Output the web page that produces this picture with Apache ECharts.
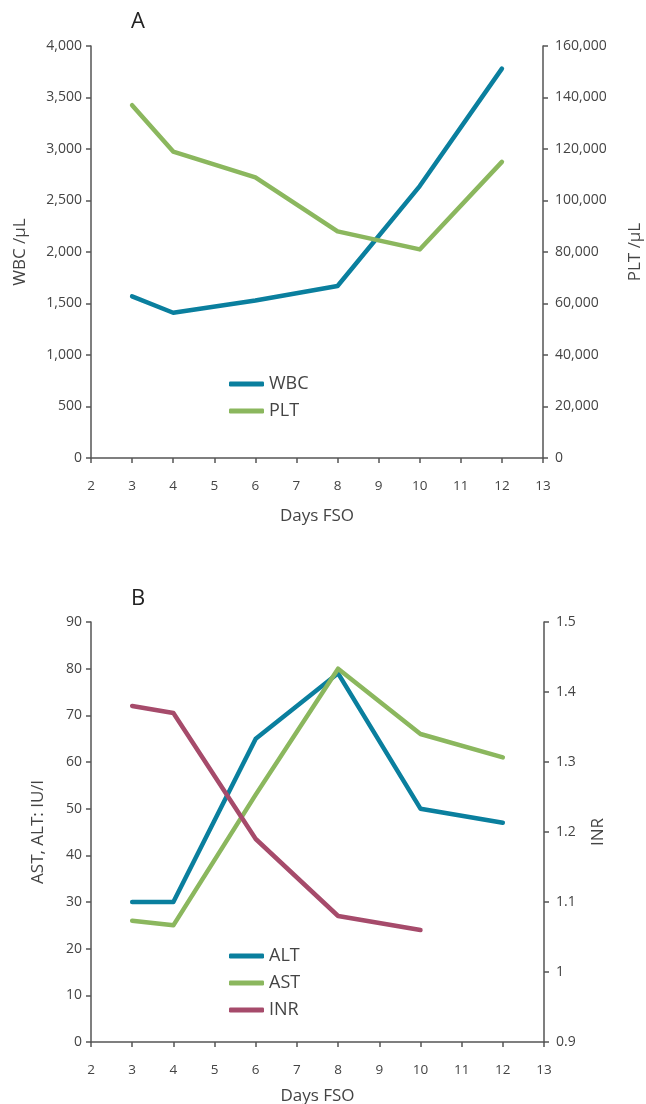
<!DOCTYPE html>
<html>
<head>
<meta charset="utf-8">
<script src="https://cdn.jsdelivr.net/npm/echarts@6/dist/echarts.min.js"></script>
<style>
  html, body { margin: 0; padding: 0; background: #fff; }
  #main { width: 646px; height: 1104px; }
</style>
</head>
<body>
<div id="main"></div>
<script>
// days from symptom onset
var days = [3, 4, 6, 8, 10, 12];
var inrDays = [3, 4, 6, 8, 10];

// panel A
var wbc = [1570, 1410, 1530, 1670, 2640, 3780];
var plt = [137000, 119000, 109000, 88000, 81000, 115000];

// panel B
var alt = [30, 30, 65, 79, 50, 47];
var ast = [26, 25, 53, 80, 66, 61];
var inr = [1.38, 1.37, 1.19, 1.08, 1.06];

var FONT = "Open Sans";
var TXT = "#444";
var AXIS = "#555";

function pairs(xs, ys) {
  return xs.map(function (x, i) { return [x, ys[i]]; });
}

function xAxisCfg(gridIndex, gap) {
  return {
    type: "value",
    gridIndex: gridIndex,
    min: 2,
    max: 13,
    interval: 1,
    name: "Days FSO",
    nameLocation: "middle",
    nameGap: gap,
    nameTextStyle: { fontFamily: FONT, fontSize: 17, color: TXT },
    axisLine: { show: true, onZero: false, lineStyle: { color: AXIS, width: 1.5 } },
    axisTick: { show: true, length: 5, lineStyle: { color: AXIS, width: 1.5 } },
    axisLabel: { margin: 21, fontFamily: FONT, fontSize: 13.5, color: TXT },
    splitLine: { show: false },
  };
}

function yAxisCfg(gridIndex, pos, min, max, interval, name, gap) {
  return {
    type: "value",
    gridIndex: gridIndex,
    position: pos,
    min: min,
    max: max,
    interval: interval,
    name: name,
    nameLocation: "middle",
    nameRotate: 90,
    nameGap: gap,
    nameTextStyle: { fontFamily: FONT, fontSize: 17, color: TXT },
    axisLine: { show: true, lineStyle: { color: AXIS, width: 1.5 } },
    axisTick: { show: true, length: 5, lineStyle: { color: AXIS, width: 1.5 } },
    axisLabel: {
      margin: pos === "left" ? 9 : 12,
      fontFamily: FONT,
      fontSize: 14,
      color: TXT,
      formatter: function (v) {
        return Math.abs(v) >= 1000 ? v.toLocaleString("en-US") : String(+v.toFixed(2));
      },
    },
    splitLine: { show: false },
  };
}

function lineSeries(name, data, color, xi, yi) {
  return {
    name: name,
    type: "line",
    xAxisIndex: xi,
    yAxisIndex: yi,
    data: data,
    showSymbol: false,
    symbol: "none",
    color: color,
    lineStyle: { width: 4.5, color: color, cap: "round", join: "round" },
    animation: false,
  };
}

var myChart = echarts.init(document.getElementById("main"));

var option = {
  backgroundColor: "#fff",
  animation: false,
  title: [
    { text: "A", left: 126, top: 6, textStyle: { fontFamily: FONT, fontSize: 22, fontWeight: "normal", color: "#222" } },
    { text: "B", left: 126, top: 583, textStyle: { fontFamily: FONT, fontSize: 22, fontWeight: "normal", color: "#222" } },
  ],
  legend: [
    {
      data: ["WBC", "PLT"],
      orient: "vertical",
      left: 224,
      top: 369,
      icon: "roundRect",
      itemWidth: 35,
      itemHeight: 5,
      itemGap: 7,
      textStyle: { fontFamily: FONT, fontSize: 18, color: TXT, lineHeight: 20 },
    },
    {
      data: ["ALT", "AST", "INR"],
      orient: "vertical",
      left: 224,
      top: 941,
      icon: "roundRect",
      itemWidth: 35,
      itemHeight: 5,
      itemGap: 7,
      textStyle: { fontFamily: FONT, fontSize: 18, color: TXT, lineHeight: 20 },
    },
  ],
  grid: [
    { left: 91, right: 103, top: 46, height: 412, outerBoundsMode: "none" },
    { left: 91, right: 102, top: 622, height: 420, outerBoundsMode: "none" },
  ],
  xAxis: [xAxisCfg(0, 50), xAxisCfg(1, 46)],
  yAxis: [
    yAxisCfg(0, "left", 0, 4000, 500, "WBC /µL", 62),
    yAxisCfg(0, "right", 0, 160000, 20000, "PLT /µL", 84),
    yAxisCfg(1, "left", 0, 90, 10, "AST, ALT: IU/l", 44),
    yAxisCfg(1, "right", 0.9, 1.5, 0.1, "INR", 46),
  ],
  series: [
    lineSeries("WBC", pairs(days, wbc), "#0a7f9e", 0, 0),
    lineSeries("PLT", pairs(days, plt), "#8bb75e", 0, 1),
    lineSeries("ALT", pairs(days, alt), "#0a7f9e", 1, 2),
    lineSeries("AST", pairs(days, ast), "#8bb75e", 1, 2),
    lineSeries("INR", pairs(inrDays, inr), "#a64b6b", 1, 3),
  ],
};

option && myChart.setOption(option);
</script>
</body>
</html>
